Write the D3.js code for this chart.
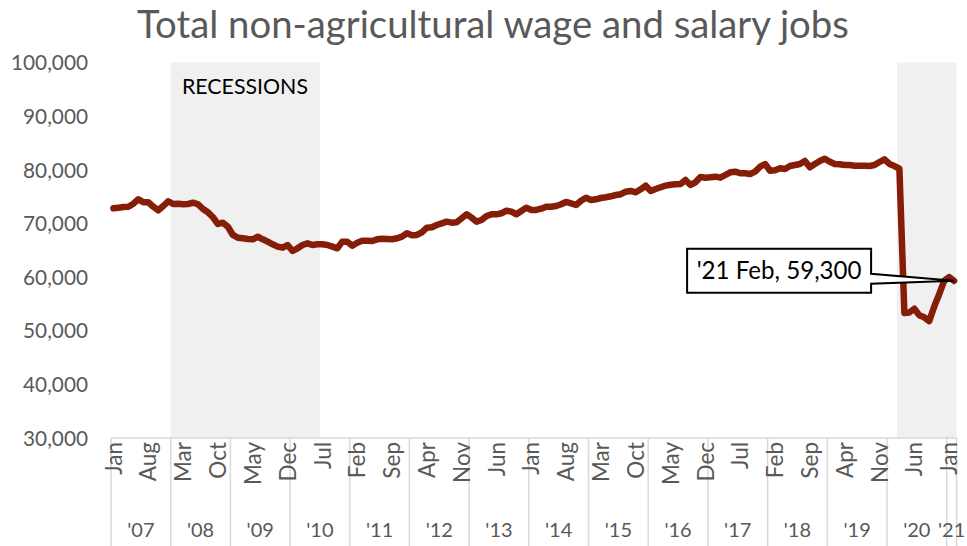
<!DOCTYPE html>
<html><head><meta charset="utf-8">
<script src="https://cdn.jsdelivr.net/npm/d3@7/dist/d3.min.js"></script>
<style>body{margin:0;background:#fff}svg{display:block}</style>
</head><body>
<svg id="chart" width="967" height="546"></svg>
<script>
// ---------- data ----------
const monthNames = ["Jan","Feb","Mar","Apr","May","Jun","Jul","Aug","Sep","Oct","Nov","Dec"];
const yearLabels = ["'07","'08","'09","'10","'11","'12","'13","'14","'15","'16","'17","'18","'19","'20","'21"];
const monthsInYear = [12,12,12,12,12,12,12,12,12,12,12,12,12,12,2];
const yTicks = [30000,40000,50000,60000,70000,80000,90000,100000];
const recessions = [["'08","Jan","'10","Jun"],["'20","Mar","'21","Feb"]];
const jobs = [
72820,72940,73060,73120,73680,74500,73940,73940,73120,72450,73250,74130,
73620,73680,73570,73620,73870,73570,72690,72070,71150,69900,70140,69390,
67850,67340,67230,67100,67040,67530,67040,66600,66110,65670,65480,65980,
64860,65360,65980,66290,65980,66110,66110,65980,65670,65360,66600,66600,
65850,66410,66780,66780,66720,67040,67160,67100,67040,67230,67530,68160,
67790,67850,68350,69210,69280,69710,70020,70330,70140,70210,70960,71700,
71080,70330,70640,71390,71700,71700,71890,72380,72190,71700,72320,72940,
72510,72510,72750,73120,73120,73250,73570,74000,73750,73440,74240,74800,
74370,74500,74740,74870,75060,75300,75450,75920,76050,75800,76360,77040,
76050,76420,76740,77040,77220,77290,77350,78100,77170,77670,78660,78530,
78600,78720,78530,79030,79530,79650,79350,79350,79220,79650,80580,81080,
79830,79900,80270,80150,80700,80890,81080,81640,80470,81080,81640,82070,
81510,81080,81020,80890,80890,80760,80760,80760,80700,80890,81450,81950,
81080,80700,80200,53300,53400,54100,52900,52500,51800,54500,56800,59300,
60000,59300];
const titleText = "Total non-agricultural wage and salary jobs";
const recessionLabel = "RECESSIONS";

// ---------- build categories ----------
const cats = [];
yearLabels.forEach((yl, yi) => {
  for (let m = 0; m < monthsInYear[yi]; m++) cats.push({year: yl, month: monthNames[m], key: yl + "-" + monthNames[m]});
});
cats.forEach((c, i) => c.value = jobs[i]);
const catKey = (y, m) => y + "-" + m;

// ---------- layout ----------
const FONT = "Lato, 'Open Sans', sans-serif";
const svg = d3.select("#chart");
const plot = {left: 111, right: 956.6, top: 62.5, bottom: 438};
const x = d3.scaleBand().domain(cats.map(c => c.key)).range([plot.left, plot.right]).padding(0);
const bw = x.bandwidth();
const cx = k => x(k) + bw / 2;
const y = d3.scaleLinear().domain([30000, 100000]).range([plot.bottom, plot.top]);

function fitWidth(sel, w) {
  const node = sel.node();
  const fs = parseFloat(sel.attr("font-size"));
  const cw = node.getComputedTextLength();
  sel.attr("font-size", fs * w / cw);
}

// recession shading
recessions.forEach(r => {
  const x0 = x(catKey(r[0], r[1]));
  const x1 = x(catKey(r[2], r[3])) + bw;
  svg.append("rect").attr("x", x0).attr("y", y(100000)).attr("width", x1 - x0)
    .attr("height", y(30000) - y(100000)).attr("fill", "#f0f0f0");
});

// title
const title = svg.append("text").attr("x", 493).attr("y", 38).attr("text-anchor", "middle")
  .attr("font-family", FONT).attr("font-size", 32).attr("fill", "#595959").text(titleText);
fitWidth(title, 712);

// recessions label
const rl = svg.append("text").attr("x", 182).attr("y", 94).attr("font-family", FONT)
  .attr("font-size", 18).attr("fill", "#000").text(recessionLabel);
fitWidth(rl, 126);

// y axis
const yAxis = svg.append("g").attr("transform", `translate(${plot.left},0)`)
  .call(d3.axisLeft(y).tickValues(yTicks).tickFormat(d3.format(",")).tickSize(0).tickPadding(23));
yAxis.select(".domain").remove();
yAxis.selectAll("text").attr("font-family", FONT).attr("font-size", 20).attr("fill", "#595959").attr("dy", "0.35em");
{
  const t = yAxis.selectAll("text").filter(d => d === 100000);
  const cw = t.node().getComputedTextLength();
  const fs = 20 * 77 / cw;
  yAxis.selectAll("text").attr("font-size", fs);
}

// x axis (multi-level category)
const axG = svg.append("g");
axG.append("line").attr("x1", plot.left).attr("x2", plot.right).attr("y1", plot.bottom).attr("y2", plot.bottom)
  .attr("stroke", "#d9d9d9").attr("stroke-width", 1.5);
const bounds = [];
let idx = 0;
yearLabels.forEach((yl, yi) => {
  const start = x(cats[idx].key);
  const end = x(cats[idx + monthsInYear[yi] - 1].key) + bw;
  bounds.push({yl, start, end});
  idx += monthsInYear[yi];
});
const sepX = bounds.map(b => b.start).concat([plot.right]);
axG.selectAll("line.sep").data(sepX).join("line").attr("class", "sep")
  .attr("x1", d => d).attr("x2", d => d).attr("y1", plot.bottom).attr("y2", 546)
  .attr("stroke", "#d9d9d9").attr("stroke-width", 1.5);
axG.selectAll("text.yr").data(bounds).join("text").attr("class", "yr")
  .attr("x", d => (d.start + d.end) / 2).attr("y", 537).attr("text-anchor", "middle")
  .attr("font-family", FONT).attr("font-size", 20).attr("fill", "#595959").text(d => d.yl);
const monthTicks = cats.filter((c, i) => i % 7 === 0);
axG.selectAll("text.mo").data(monthTicks).join("text").attr("class", "mo")
  .attr("transform", d => `translate(${cx(d.key)},442) rotate(-90)`)
  .attr("text-anchor", "end").attr("dy", "0.36em")
  .attr("font-family", FONT).attr("font-size", 22.5).attr("fill", "#595959").text(d => d.month);

// line
const line = d3.line().x(d => cx(d.key)).y(d => y(d.value));
svg.append("path").datum(cats).attr("d", line).attr("fill", "none")
  .attr("stroke", "#861d08").attr("stroke-width", 6.5).attr("stroke-linejoin", "round").attr("stroke-linecap", "round");

// callout
const last = cats[cats.length - 1];
const tipX = cx(last.key), tipY = y(last.value);
const bx0 = tipX - 267, bx1 = tipX - 83, by0 = tipY - 32, by1 = tipY + 12;
svg.append("path").attr("d", `M${bx0},${by0}H${bx1}V${tipY - 7}L${tipX},${tipY}L${bx1},${tipY + 3}V${by1}H${bx0}Z`)
  .attr("fill", "#fff").attr("stroke", "#000").attr("stroke-width", 2).attr("stroke-linejoin", "miter");
const ct = svg.append("text").attr("x", (bx0 + bx1) / 2).attr("y", tipY - 2).attr("text-anchor", "middle")
  .attr("font-family", FONT).attr("font-size", 20).attr("fill", "#000")
  .text(`${last.year} ${last.month}, ${d3.format(",")(last.value)}`);
fitWidth(ct, 165);
</script>
</body></html>
